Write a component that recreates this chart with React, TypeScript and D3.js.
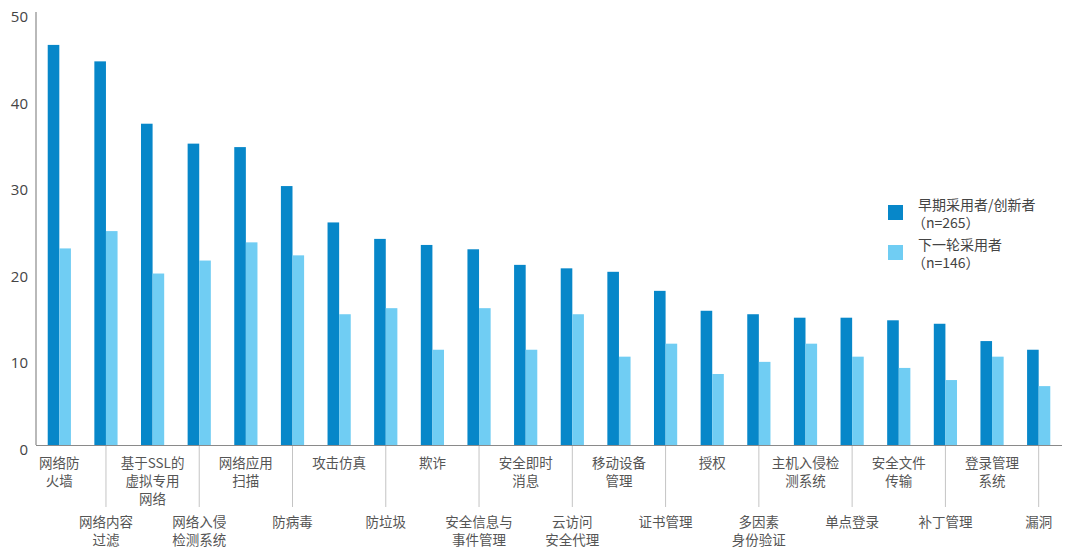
import { useEffect, useRef } from 'react';
import * as d3 from 'd3';

const categories = [
  '网络防\n火墙', '网络内容\n过滤', '基于SSL的\n虚拟专用\n网络', '网络入侵\n检测系统',
  '网络应用\n扫描', '防病毒', '攻击仿真', '防垃圾', '欺诈', '安全信息与\n事件管理',
  '安全即时\n消息', '云访问\n安全代理', '移动设备\n管理', '证书管理', '授权',
  '多因素\n身份验证', '主机入侵检\n测系统', '单点登录', '安全文件\n传输', '补丁管理',
  '登录管理\n系统', '漏洞',
];

const earlyAdopters = [46.2, 44.3, 37.1, 34.8, 34.4, 29.9, 25.7, 23.8, 23.1, 22.6, 20.8,
  20.4, 20.0, 17.8, 15.5, 15.1, 14.7, 14.7, 14.4, 14.0, 12.0, 11.0];
const nextAdopters = [22.7, 24.7, 19.8, 21.3, 23.4, 21.9, 15.1, 15.8, 11.0, 15.8, 11.0,
  15.1, 10.2, 11.7, 8.2, 9.6, 11.7, 10.2, 8.9, 7.5, 10.2, 6.8];

const yTicks = [0, 10, 20, 30, 40, 50];

const legendItems = [
  { name: '早期采用者/创新者', n: '（n=265）', color: '#0787c9' },
  { name: '下一轮采用者', n: '（n=146）', color: '#70cdf3' },
];

const W = 1080;
const H = 551;
const FONT = '"Noto Sans CJK SC", "Noto Sans", sans-serif';

export default function App() {
  const svgRef = useRef<SVGSVGElement>(null);

  useEffect(() => {
    if (!svgRef.current) return;
    const svg = d3.select(svgRef.current);
    svg.selectAll('*').remove();

    const left = 36, right = 1062, top = 12, bottom = 445;

    const x = d3.scaleBand<number>()
      .domain(categories.map((_, i) => i))
      .range([left, right]);
    const y = d3.scaleLinear().domain([0, 50]).range([bottom, top]);
    const barW = 11.6;

    // 刻度
    svg.append('g')
      .selectAll('text')
      .data(yTicks)
      .join('text')
      .attr('x', 28)
      .attr('y', d => y(d) + 6)
      .attr('text-anchor', 'end')
      .attr('dominant-baseline', 'middle')
      .attr('fill', '#444')
      .attr('font-family', '"Open Sans", sans-serif')
      .attr('font-size', 15)
      .text(d => d);

    // 柱子
    const g = svg.append('g');
    g.selectAll('rect.early')
      .data(earlyAdopters)
      .join('rect')
      .attr('class', 'early')
      .attr('x', (_, i) => x(i)! + x.bandwidth() / 2 - barW)
      .attr('width', barW)
      .attr('y', d => y(d))
      .attr('height', d => bottom - y(d))
      .attr('fill', legendItems[0].color);

    g.selectAll('rect.next')
      .data(nextAdopters)
      .join('rect')
      .attr('class', 'next')
      .attr('x', (_, i) => x(i)! + x.bandwidth() / 2)
      .attr('width', barW)
      .attr('y', d => y(d))
      .attr('height', d => bottom - y(d))
      .attr('fill', legendItems[1].color);

    // 坐标轴线
    svg.append('line')
      .attr('x1', left).attr('x2', left)
      .attr('y1', top).attr('y2', bottom)
      .attr('stroke', '#8a8a8a').attr('stroke-width', 1.2);
    svg.append('line')
      .attr('x1', left).attr('x2', right)
      .attr('y1', bottom + 0.5).attr('y2', bottom + 0.5)
      .attr('stroke', '#8a8a8a').attr('stroke-width', 1.2);

    // 分隔线（奇数组）
    svg.append('g')
      .selectAll('line')
      .data(categories.map((_, i) => i).filter(i => i % 2 === 1))
      .join('line')
      .attr('x1', i => x(i)! + x.bandwidth() / 2)
      .attr('x2', i => x(i)! + x.bandwidth() / 2)
      .attr('y1', bottom + 1)
      .attr('y2', 507)
      .attr('stroke', '#c4c4c4')
      .attr('stroke-width', 1);

    // 类别标签，每行一个 text
    const labels = svg.append('g')
      .attr('font-family', FONT)
      .attr('font-size', 13.5)
      .attr('fill', '#555');
    categories.forEach((c, i) => {
      const cx = x(i)! + x.bandwidth() / 2;
      const y0 = i % 2 === 0 ? 468 : 527;
      c.split('\n').forEach((line, k) => {
        labels.append('text')
          .attr('text-anchor', 'middle')
          .attr('x', cx)
          .attr('y', y0 + k * 18)
          .text(line);
      });
    });

    // 图例
    const lg = svg.append('g').attr('font-family', FONT).attr('font-size', 14).attr('fill', '#444');
    legendItems.forEach((d, i) => {
      const yy = 205 + i * 40;
      lg.append('rect')
        .attr('x', 888).attr('y', yy)
        .attr('width', 15).attr('height', 15)
        .attr('fill', d.color);
      lg.append('text').attr('x', 918).attr('y', yy + 5).text(d.name);
      lg.append('text').attr('x', 912).attr('y', yy + 23).text(d.n);
    });
  }, []);

  return (
    <div style={{ position: 'absolute', left: 0, top: 0, width: W, height: H, background: '#fff' }}>
      <svg ref={svgRef} width={W} height={H} />
    </div>
  );
}
